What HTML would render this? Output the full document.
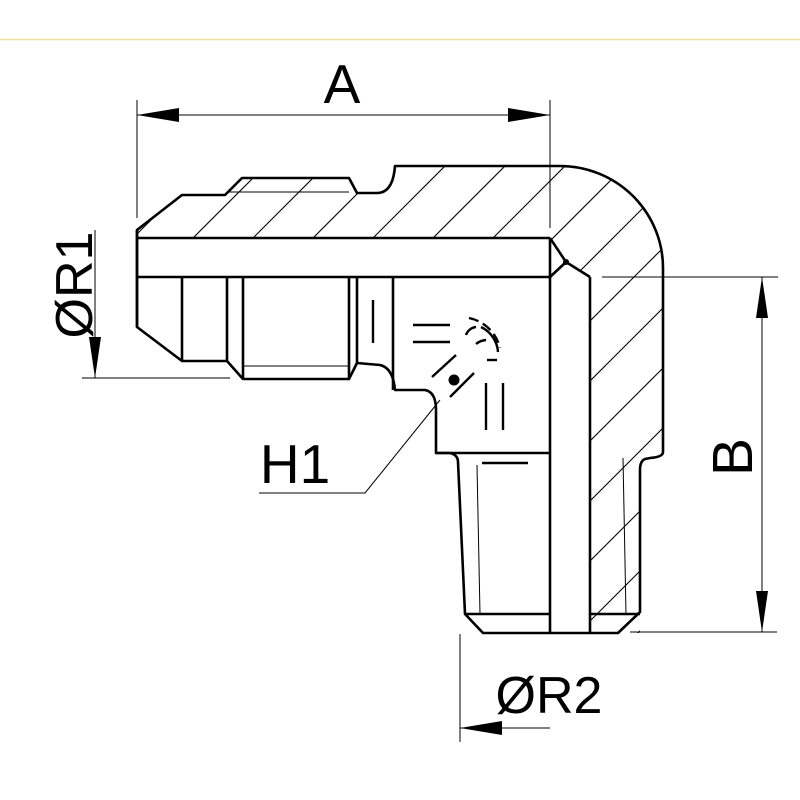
<!DOCTYPE html>
<html><head><meta charset="utf-8"><style>
html,body{margin:0;padding:0;background:#fff;width:800px;height:800px;overflow:hidden;}
svg{display:block;}
text{font-family:"Liberation Sans",sans-serif;fill:#000;}
</style></head><body>
<svg width="800" height="800" viewBox="0 0 800 800" xmlns="http://www.w3.org/2000/svg">
<defs>
<clipPath id="hc"><path d="M137,238 L137,230 L182,195 L225,195 L242,178 L349,178 L357,193 L377,193 Q393,193 395,166 L560,166 A103,102 0 0 1 663,268 L663,452 L640,460 L640,633 L590,633 L590,277 L566,262 L550,238 Z"/></clipPath>
</defs>
<line x1="0" y1="39.5" x2="800" y2="39.5" stroke="#f0e0a0" stroke-width="1.5"/>

<g clip-path="url(#hc)" stroke="#000" stroke-width="1.1">
<line x1="-529" y1="900" x2="900" y2="-529"/>
<line x1="-469" y1="900" x2="900" y2="-469"/>
<line x1="-409" y1="900" x2="900" y2="-409"/>
<line x1="-349" y1="900" x2="900" y2="-349"/>
<line x1="-289" y1="900" x2="900" y2="-289"/>
<line x1="-229" y1="900" x2="900" y2="-229"/>
<line x1="-169" y1="900" x2="900" y2="-169"/>
<line x1="-109" y1="900" x2="900" y2="-109"/>
<line x1="-49" y1="900" x2="900" y2="-49"/>
<line x1="11" y1="900" x2="900" y2="11"/>
<line x1="71" y1="900" x2="900" y2="71"/>
<line x1="131" y1="900" x2="900" y2="131"/>
<line x1="191" y1="900" x2="900" y2="191"/>
<line x1="251" y1="900" x2="900" y2="251"/>
<line x1="311" y1="900" x2="900" y2="311"/>
<line x1="371" y1="900" x2="900" y2="371"/>
<line x1="431" y1="900" x2="900" y2="431"/>
</g>

<g fill="none" stroke="#000" stroke-width="2.6" stroke-linejoin="round">
<path d="M137,230 L182,195 L225,195 L242,178 L349,178 L357,193 L377,193 Q393,193 395,166 L560,166 A103,102 0 0 1 663,268 L663,452 Q663,457 650,458 L645,459 Q640,461 640,470 L640,612 L618,633 L483,633 L465,614 L458,462 Q458,455 450,453 L436,453 L436,410 Q436,392 425,390 L395,390 Q393,368 380,365 L357,363 L349,379 L243,379 L227,361 L182,361 L137,327 Z"/>
<line x1="137" y1="238" x2="550" y2="238"/>
<line x1="137" y1="277" x2="550" y2="277"/>
<line x1="137" y1="230" x2="137" y2="327"/>
<line x1="550" y1="238" x2="550" y2="633"/>
<line x1="590" y1="277" x2="590" y2="633"/>
<line x1="550" y1="238" x2="566" y2="262"/>
<line x1="550" y1="277" x2="566" y2="262"/>
<line x1="566" y1="262" x2="590" y2="277"/>
<line x1="182" y1="277" x2="182" y2="361"/>
<line x1="227" y1="277" x2="227" y2="361"/>
<line x1="243" y1="277" x2="243" y2="379"/>
<line x1="349" y1="277" x2="349" y2="379"/>
<line x1="357" y1="277" x2="357" y2="363"/>
<line x1="393" y1="277" x2="393" y2="390"/>
<line x1="436" y1="453" x2="550" y2="453"/>
<line x1="465" y1="614" x2="550" y2="614"/>
<line x1="590" y1="614" x2="640" y2="614"/>
</g>
<circle cx="566" cy="262" r="3" fill="#000"/>

<g stroke="#000" stroke-width="1" fill="none">
<line x1="227" y1="192" x2="349" y2="192"/>
<line x1="243" y1="366" x2="349" y2="366"/>
<line x1="477" y1="465" x2="480" y2="614"/>
<line x1="623" y1="458" x2="626" y2="614"/>
</g>

<g stroke="#000" stroke-width="2.4" fill="none">
<line x1="373" y1="300" x2="373" y2="343"/>
<line x1="413" y1="325" x2="450" y2="325"/>
<line x1="413" y1="342" x2="450" y2="342"/>
<line x1="432" y1="377" x2="456" y2="355"/>
<line x1="450" y1="397" x2="474" y2="373"/>
<line x1="486" y1="383" x2="486" y2="430"/>
<line x1="503" y1="383" x2="503" y2="430"/>
<line x1="482" y1="463" x2="528" y2="463"/>
<path d="M466,335 A12,12 0 0 1 476,327" />
<path d="M476,344 A18,18 0 0 1 486,340" />
<path d="M481,327 A30,30 0 0 1 498,352"/>
<path d="M469,318 A40,40 0 0 1 500,348" stroke-dasharray="10 5"/>
<line x1="487" y1="360" x2="497" y2="360"/>
</g>
<circle cx="454" cy="380" r="5.5" fill="#000"/>

<g stroke="#000" stroke-width="1" fill="none">
<line x1="137" y1="100" x2="137" y2="218"/>
<line x1="550" y1="100" x2="550" y2="228"/>
<line x1="137" y1="115" x2="550" y2="115"/>
<line x1="95" y1="230" x2="95" y2="378"/>
<line x1="82" y1="378" x2="230" y2="378"/>
<line x1="762" y1="277" x2="762" y2="632"/>
<line x1="602" y1="277" x2="778" y2="277"/>
<line x1="630" y1="632" x2="777" y2="632"/>
<line x1="460" y1="634" x2="460" y2="742"/>
<line x1="460" y1="728" x2="550" y2="728"/>
<polyline points="259,493 365,493 440,400"/>
</g>
<g fill="#000">
<polygon points="137,115 179,108 179,122"/>
<polygon points="550,115 508,108 508,122"/>
<polygon points="95,378 89,337 101,337"/>
<polygon points="762,277 756,318 768,318"/>
<polygon points="762,632 756,591 768,591"/>
<polygon points="460,728 502,721 502,735"/>
</g>
<text x="342" y="103" font-size="55" text-anchor="middle">A</text>
<text x="295" y="483" font-size="55" text-anchor="middle">H1</text>
<text x="549" y="713" font-size="52" text-anchor="middle">ØR2</text>
<text transform="translate(92,285) rotate(-90)" font-size="52" text-anchor="middle">ØR1</text>
<text transform="translate(752,457) rotate(-90)" font-size="57" text-anchor="middle">B</text>
</svg>
</body></html>
